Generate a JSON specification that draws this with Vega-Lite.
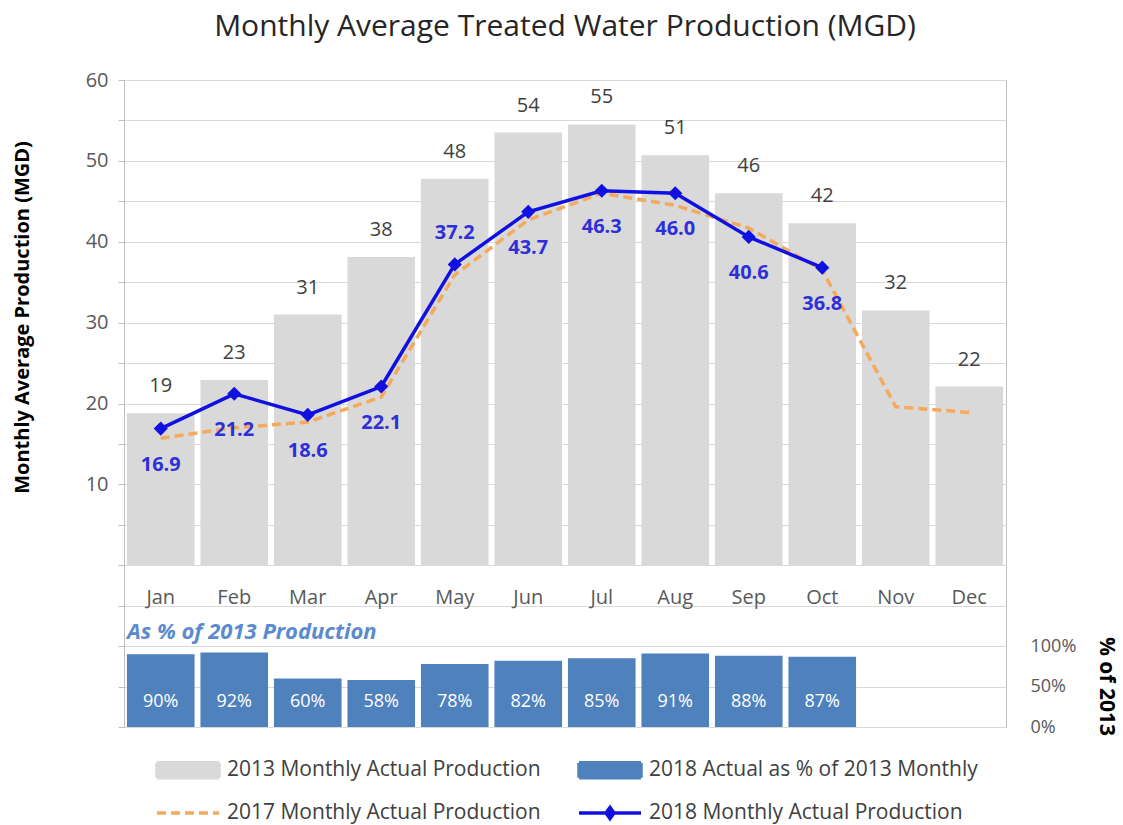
{
  "$schema": "https://vega.github.io/schema/vega-lite/v6.json",
  "autosize": "none",
  "width": 882,
  "height": 647,
  "padding": {"left": 124, "top": 80, "right": 117, "bottom": 98},
  "background": "white",
  "config": {
    "font": "Open Sans",
    "view": {"stroke": "#c0c0c0", "strokeWidth": 1}
  },
  "title": {
    "text": "Monthly Average Treated Water Production (MGD)",
    "font": "Open Sans",
    "fontSize": 30,
    "fontWeight": "normal",
    "color": "#262626",
    "anchor": "middle",
    "offset": 28
  },
  "data": {
    "values": [
      {"Month": "Jan", "Y2013": 18.8, "Y2017": 15.7, "Y2018": 16.9, "Pct": 0.90},
      {"Month": "Feb", "Y2013": 22.9, "Y2017": 17.0, "Y2018": 21.2, "Pct": 0.92},
      {"Month": "Mar", "Y2013": 31.0, "Y2017": 17.7, "Y2018": 18.6, "Pct": 0.60},
      {"Month": "Apr", "Y2013": 38.1, "Y2017": 20.8, "Y2018": 22.1, "Pct": 0.58},
      {"Month": "May", "Y2013": 47.8, "Y2017": 35.9, "Y2018": 37.2, "Pct": 0.78},
      {"Month": "Jun", "Y2013": 53.5, "Y2017": 42.7, "Y2018": 43.7, "Pct": 0.82},
      {"Month": "Jul", "Y2013": 54.5, "Y2017": 46.0, "Y2018": 46.3, "Pct": 0.85},
      {"Month": "Aug", "Y2013": 50.7, "Y2017": 44.5, "Y2018": 46.0, "Pct": 0.91},
      {"Month": "Sep", "Y2013": 46.0, "Y2017": 41.7, "Y2018": 40.6, "Pct": 0.88},
      {"Month": "Oct", "Y2013": 42.3, "Y2017": 36.5, "Y2018": 36.8, "Pct": 0.87},
      {"Month": "Nov", "Y2013": 31.5, "Y2017": 19.6, "Y2018": null, "Pct": null},
      {"Month": "Dec", "Y2013": 22.1, "Y2017": 18.9, "Y2018": null, "Pct": null}
    ]
  },
  "encoding": {
    "x": {
      "field": "Month",
      "type": "ordinal",
      "sort": ["Jan","Feb","Mar","Apr","May","Jun","Jul","Aug","Sep","Oct","Nov","Dec"],
      "scale": {"paddingInner": 0.08, "paddingOuter": 0.04},
      "axis": null
    }
  },
  "layer": [
    {
      "encoding": {
        "y": {
          "type": "quantitative",
          "scale": {"domain": [-20, 60], "nice": false, "zero": false},
          "axis": {
            "orient": "left",
            "values": [-20,-15,-10,-5,0,5,10,15,20,25,30,35,40,45,50,55,60],
            "labelExpr": "datum.value >= 10 && datum.value % 10 == 0 ? datum.label : ''",
            "grid": true,
            "gridColor": "#d9d9d9",
            "gridWidth": 1.2,
            "domain": true,
            "domainColor": "#bfbfbf",
            "ticks": true,
            "tickColor": "#bfbfbf",
            "tickSize": 6,
            "labelFont": "Open Sans",
            "labelFontSize": 20,
            "labelColor": "#595959",
            "labelPadding": 10,
            "title": "Monthly Average Production (MGD)",
            "titleFont": "Open Sans",
            "titleFontSize": 20,
            "titleFontWeight": "bold",
            "titleColor": "#000000",
            "titleAngle": -90,
            "titleBaseline": "middle",
            "titleAnchor": "middle",
            "titleX": -102,
            "titleY": 237
          }
        }
      },
      "layer": [
        {
          "mark": {"type": "bar"},
          "encoding": {
            "y": {"field": "Y2013", "type": "quantitative"},
            "y2": {"datum": 0},
            "color": {
              "datum": "2013 Monthly Actual Production",
              "type": "nominal",
              "scale": {
                "domain": ["2013 Monthly Actual Production", "2018 Actual as % of 2013 Monthly", "2017 Monthly Actual Production", "2018 Monthly Actual Production"],
                "range": ["#d9d9d9", "#4f81bd", "#f4a95c", "#1010e0"]
              },
              "legend": {
                "orient": "none",
                "legendX": 52,
                "legendY": 678,
                "columns": 2,
                "direction": "horizontal",
                "title": null,
                "symbolSize": 400,
                "symbolStrokeWidth": 3.5,
                "labelFont": "Open Sans",
                "labelFontSize": 21,
                "labelColor": "#404040",
                "labelOffset": 27,
                "labelLimit": 500,
                "columnPadding": 31,
                "rowPadding": 15,
                "encode": {
                  "symbols": {
                    "update": {
                      "shape": {"signal": "datum.value == '2017 Monthly Actual Production' ? 'M-3.1,0H3.1' : datum.value == '2018 Monthly Actual Production' ? 'M-3.1,0H3.1M0,-0.55L0.4,0L0,0.55L-0.4,0Z' : 'M-3.1,-0.75H3.1V0.75H-3.1Z'"},
                      "fill": {"signal": "datum.value == '2013 Monthly Actual Production' ? '#d9d9d9' : datum.value == '2018 Actual as % of 2013 Monthly' ? '#4f81bd' : datum.value == '2018 Monthly Actual Production' ? '#1010e0' : 'transparent'"},
                      "stroke": {"signal": "datum.value == '2017 Monthly Actual Production' ? '#f4a95c' : datum.value == '2018 Monthly Actual Production' ? '#1010e0' : 'transparent'"},
                      "strokeWidth": {"value": 3.5},
                      "strokeDash": {"signal": "datum.value == '2017 Monthly Actual Production' ? [9, 5] : [1, 0]"},
                      "opacity": {"value": 1}
                    }
                  }
                }
              }
            }
          }
        },
        {
          "mark": {"type": "text", "font": "Open Sans", "fontSize": 20, "color": "#404040", "baseline": "middle", "dy": -27},
          "encoding": {
            "y": {"field": "Y2013", "type": "quantitative"},
            "text": {"field": "Y2013", "type": "quantitative", "format": ".0f"}
          }
        },
        {
          "mark": {"type": "line", "strokeDash": [9, 5], "strokeWidth": 3.5},
          "encoding": {
            "y": {"field": "Y2017", "type": "quantitative"},
            "color": {"datum": "2017 Monthly Actual Production", "type": "nominal"}
          }
        },
        {
          "mark": {"type": "line", "strokeWidth": 3.5, "point": {"shape": "diamond", "size": 200, "filled": true, "color": "#1010e0", "opacity": 1}},
          "encoding": {
            "y": {"field": "Y2018", "type": "quantitative"},
            "color": {"datum": "2018 Monthly Actual Production", "type": "nominal"}
          }
        },
        {
          "transform": [{"filter": "datum.Month != 'May' && datum.Y2018 != null"}],
          "mark": {"type": "text", "font": "Open Sans", "fontSize": 20, "fontWeight": "bold", "color": "#2f2fd8", "baseline": "middle", "dy": 36},
          "encoding": {
            "y": {"field": "Y2018", "type": "quantitative"},
            "text": {"field": "Y2018", "type": "quantitative", "format": ".1f"}
          }
        },
        {
          "transform": [{"filter": "datum.Month == 'May'"}],
          "mark": {"type": "text", "font": "Open Sans", "fontSize": 20, "fontWeight": "bold", "color": "#2f2fd8", "baseline": "middle", "dy": -31},
          "encoding": {
            "y": {"field": "Y2018", "type": "quantitative"},
            "text": {"field": "Y2018", "type": "quantitative", "format": ".1f"}
          }
        },
        {
          "mark": {"type": "text", "font": "Open Sans", "fontSize": 20, "color": "#595959", "baseline": "middle"},
          "encoding": {
            "y": {"datum": -4},
            "text": {"field": "Month", "type": "nominal"}
          }
        },
        {
          "data": {"values": [{"t": "As % of 2013 Production"}]},
          "mark": {"type": "text", "font": "Open Sans", "fontSize": 22, "fontWeight": "bold", "fontStyle": "italic", "color": "#5b8ad0", "baseline": "middle", "align": "left", "dx": 0},
          "encoding": {
            "x": {"datum": "Jan", "bandPosition": 0},
            "y": {"datum": -8.3},
            "text": {"field": "t", "type": "nominal"}
          }
        }
      ]
    },
    {
      "encoding": {
        "y": {
          "type": "quantitative",
          "scale": {"domain": [0, 8], "nice": false},
          "axis": {
            "orient": "right",
            "values": [0, 0.5, 1],
            "format": ".0%",
            "grid": false,
            "domain": false,
            "ticks": false,
            "labelFont": "Open Sans",
            "labelFontSize": 18,
            "labelColor": "#595959",
            "labelAlign": "left",
            "labelPadding": 24,
            "title": "% of 2013",
            "titleFont": "Open Sans",
            "titleFontSize": 21,
            "titleFontWeight": "bold",
            "titleColor": "#000000",
            "titleAngle": 90,
            "titleBaseline": "middle",
            "titleAnchor": "middle",
            "titleX": 99,
            "titleY": 606
          }
        }
      },
      "layer": [
        {
          "mark": {"type": "bar"},
          "encoding": {
            "y": {"field": "Pct", "type": "quantitative"},
            "y2": {"datum": 0},
            "color": {"datum": "2018 Actual as % of 2013 Monthly", "type": "nominal"}
          }
        },
        {
          "mark": {"type": "text", "font": "Open Sans", "fontSize": 18, "color": "#ffffff", "baseline": "middle"},
          "encoding": {
            "y": {"datum": 0.31},
            "text": {"field": "Pct", "type": "quantitative", "format": ".0%"}
          }
        }
      ]
    }
  ],
  "resolve": {"scale": {"y": "independent", "color": "shared"}, "axis": {"y": "independent"}}
}
